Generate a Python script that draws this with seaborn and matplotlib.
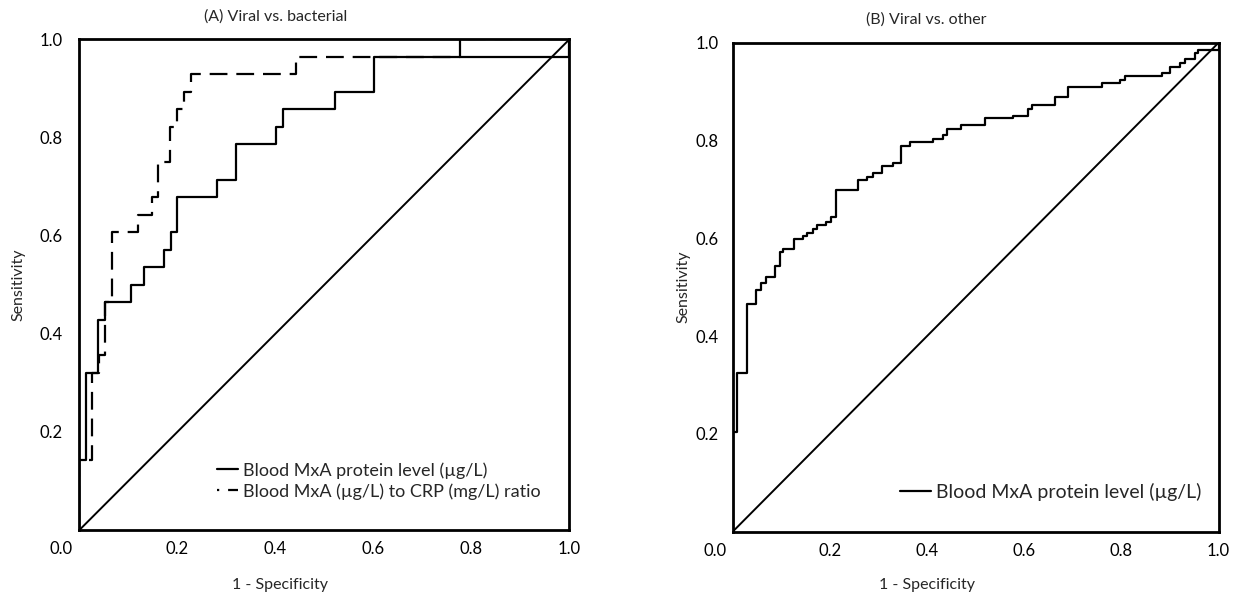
#!/usr/bin/env python3

import matplotlib.pyplot as plt
import matplotlib.transforms as mtransforms
import seaborn as sns

title_a = "(A) Viral vs. bacterial"
title_b = "(B) Viral vs. other"
x_label = "1 - Specificity"
y_label = "Sensitivity"
label_mxa = "Blood MxA protein level (µg/L)"
label_ratio = "Blood MxA (µg/L) to CRP (mg/L) ratio"

# ROC corner points (1 - specificity, sensitivity), drawn as post steps
a_mxa_fpr = [0.0, 0.0, 0.014, 0.037, 0.052, 0.106, 0.132, 0.173, 0.187, 0.200,
             0.280, 0.320, 0.401, 0.415, 0.522, 0.601, 1.0]
a_mxa_tpr = [0.0, 0.143, 0.321, 0.429, 0.464, 0.500, 0.536, 0.571, 0.607, 0.679,
             0.714, 0.786, 0.821, 0.857, 0.893, 0.964, 1.0]

a_ratio_fpr = [0.0, 0.0, 0.025, 0.040, 0.052, 0.066, 0.120, 0.148, 0.161, 0.185,
               0.200, 0.214, 0.227, 0.442, 0.776, 1.0]
a_ratio_tpr = [0.0, 0.143, 0.321, 0.357, 0.464, 0.607, 0.643, 0.679, 0.750, 0.821,
               0.857, 0.893, 0.929, 0.964, 1.0, 1.0]

b_mxa_fpr = [0.0, 0.0, 0.009, 0.029, 0.048, 0.058, 0.068, 0.087, 0.097, 0.104,
             0.126, 0.144, 0.154, 0.165, 0.174, 0.192, 0.202, 0.2125, 0.258, 0.277,
             0.288, 0.308, 0.329, 0.346, 0.365, 0.413, 0.432, 0.442, 0.470, 0.519,
             0.576, 0.607, 0.615, 0.663, 0.691, 0.760, 0.797, 0.807, 0.883, 0.901,
             0.920, 0.931, 0.951, 0.958, 1.0]
b_mxa_tpr = [0.0, 0.204, 0.325, 0.466, 0.494, 0.508, 0.521, 0.543, 0.571, 0.578,
             0.599, 0.605, 0.611, 0.620, 0.627, 0.634, 0.643, 0.698, 0.719, 0.726,
             0.733, 0.748, 0.755, 0.789, 0.796, 0.803, 0.811, 0.824, 0.831, 0.845,
             0.851, 0.864, 0.872, 0.889, 0.910, 0.917, 0.924, 0.931, 0.939, 0.951,
             0.958, 0.966, 0.979, 0.986, 1.0]

x_ticks = [0.0, 0.2, 0.4, 0.6, 0.8, 1.0]
x_tick_labels = ["0.0", "0.2", "0.4", "0.6", "0.8", "1.0"]
y_ticks = [0.2, 0.4, 0.6, 0.8, 1.0]
y_tick_labels = ["0.2", "0.4", "0.6", "0.8", "1.0"]


def style_panel(fig, ax, title, title_x, xlabel_xy, ylabel_xy, ypad):
    ax.set_xlim(0, 1)
    ax.set_ylim(0, 1)
    ax.axline((0, 0), slope=1, color="black", lw=1.4, zorder=1)

    ax.set_xticks(x_ticks, x_tick_labels)
    ax.set_yticks(y_ticks, y_tick_labels)
    ax.tick_params(axis="both", length=0, labelsize=12, colors="black")
    ax.tick_params(axis="x", pad=8)
    ax.tick_params(axis="y", pad=ypad)

    # the corner "0.0" sits left of the origin
    first = ax.xaxis.get_major_ticks()[0].label1
    first.set_transform(
        first.get_transform() + mtransforms.ScaledTranslation(-0.18, 0, fig.dpi_scale_trans)
    )

    for spine in ax.spines.values():
        spine.set_visible(True)
        spine.set_color("black")
        spine.set_linewidth(2.0)

    ax.text(title_x, 1.047, title, transform=ax.transAxes, ha="center", va="center", fontsize=11.5)
    ax.set_xlabel(x_label, fontsize=11.5, va="center")
    ax.xaxis.set_label_coords(*xlabel_xy)
    ax.set_ylabel(y_label, fontsize=11.5, va="center")
    ax.yaxis.set_label_coords(*ylabel_xy)


def main():
    sns.set_style("white")
    plt.rcParams["font.family"] = ["Lato", "DejaVu Sans"]

    fig = plt.figure(figsize=(12.46, 6.03), dpi=100)
    ax_a = fig.add_axes([0.0637, 0.121, 0.3933, 0.8138])
    ax_b = fig.add_axes([0.588, 0.1182, 0.390, 0.811])

    # --- (A)
    sns.lineplot(x=a_mxa_fpr, y=a_mxa_tpr, sort=False, estimator=None, ax=ax_a,
                 color="black", lw=1.6, drawstyle="steps-post", label=label_mxa, zorder=3)
    sns.lineplot(x=a_ratio_fpr, y=a_ratio_tpr, sort=False, estimator=None, ax=ax_a,
                 color="black", lw=1.6, drawstyle="steps-post", linestyle=(0, (8, 4)),
                 label=label_ratio, zorder=2)
    style_panel(fig, ax_a, title_a, 0.40, (0.41, -0.112), (-0.125, 0.5), 12)
    leg = ax_a.legend(loc="lower left", bbox_to_anchor=(0.28, 0.062), frameon=False, fontsize=13,
                      handlelength=1.2, handletextpad=0.25, borderpad=0, borderaxespad=0,
                      labelspacing=0.25)
    leg.get_lines()[1].set_linestyle((7, (8, 4)))

    # --- (B)
    sns.lineplot(x=b_mxa_fpr, y=b_mxa_tpr, sort=False, estimator=None, ax=ax_b,
                 color="black", lw=1.6, drawstyle="steps-post", label=label_mxa, zorder=3)
    style_panel(fig, ax_b, title_b, 0.398, (0.40, -0.109), (-0.102, 0.5), 10)
    ax_b.legend(loc="lower left", bbox_to_anchor=(0.345, 0.063), frameon=False, fontsize=14,
                handlelength=1.6, handletextpad=0.25, borderpad=0, borderaxespad=0)

    plt.savefig("out.png", dpi=100)
    plt.close()


if __name__ == "__main__":
    main()
